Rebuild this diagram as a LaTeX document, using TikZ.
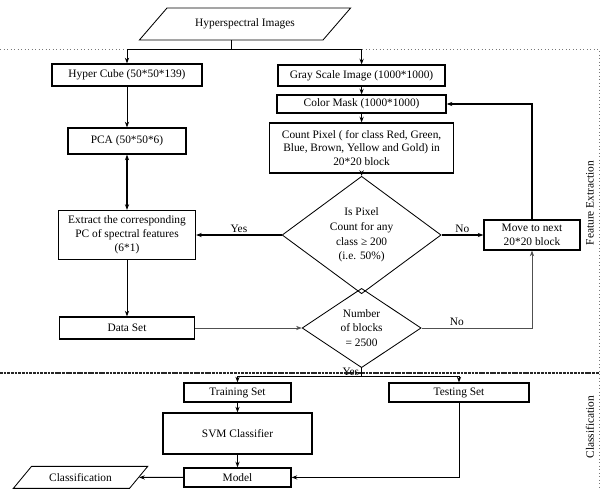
\documentclass[tikz,border=0pt]{standalone}
\usepackage{fontspec}
\setmainfont{Liberation Serif}
\usepackage{tikz}
\usetikzlibrary{shapes.geometric, arrows.meta, positioning, calc}
\definecolor{LineGray}{RGB}{80,80,80}
\definecolor{FrameGray}{RGB}{120,120,120}
\tikzset{
  box/.style={
    rectangle, draw=black, line width=0.9pt, inner sep=1pt,
    align=center, font=\fontsize{8.1}{9.9}\selectfont
  },
  dec/.style={
    diamond, draw=black, line width=0.6pt, inner sep=0pt,
    align=center, font=\fontsize{8.1}{10.4}\selectfont
  },
  io/.style={
    trapezium, trapezium stretches=true,
    trapezium left angle=36, trapezium right angle=144,
    draw=black, line width=0.6pt, inner sep=1pt,
    font=\fontsize{8.1}{9.9}\selectfont
  },
  conn/.style={draw=black, line width=0.6pt},
  arr/.style={-{Stealth[length=4pt,width=3pt]}, draw=black, line width=0.6pt},
  tarr/.style={arr, line width=1.1pt},
  garr/.style={arr, draw=LineGray, line width=0.5pt},
  lbl/.style={font=\fontsize{8.1}{9.9}\selectfont, inner sep=1.5pt}
}

\begin{document}
\begin{tikzpicture}

  \fill[white] (0,0) rectangle (15.05,12.225);
  \useasboundingbox (0,0) rectangle (15.05,12.225);

  % Frame and stage labels
  \draw[FrameGray, dotted, line width=0.5pt] (0,11.0) -- (14.975,11.0) -- (14.975,0);
  \draw[black!85, dash pattern=on 2pt off 0.6pt, line width=0.8pt] (0,2.9) -- (14.975,2.9);
  \node[lbl, rotate=90] (fe) at (14.75,7.15) {Feature Extraction};
  \node[lbl, rotate=90] (cl) at (14.75,1.55) {Classification};

  % ── Input ──
  \node[io, minimum width=5.3cm, minimum height=0.8cm] (hsi) at (6.125,11.625) {Hyperspectral Images};
  \coordinate (split) at (5.775,11.0);

  % ── Spectral branch ──
  \node[box, minimum width=3.75cm, minimum height=0.55cm]   (hcube)   at (3.175,10.35) {Hyper Cube (50*50*139)};
  \node[box, minimum width=2.95cm, minimum height=0.65cm]   (pca)     at (3.175,8.7)   {PCA (50*50*6)};
  \node[box, minimum width=3.425cm, minimum height=1.225cm] (extract) at (3.175,6.35)  {Extract the corresponding\\PC of spectral features\\(6*1)};
  \node[box, minimum width=3.375cm, minimum height=0.55cm]  (dataset) at (3.175,4.025) {Data Set};

  % ── Colour branch ──
  \node[box, minimum width=4.175cm, minimum height=0.525cm] (gray)  at (9.04,10.3375) {Gray Scale Image (1000*1000)};
  \node[box, minimum width=4.225cm, minimum height=0.45cm]  (mask)  at (9.04,9.625)   {Color Mask (1000*1000)};
  \node[box, minimum width=4.6cm, minimum height=1.25cm]    (count) at (9.04,8.525)   {Count Pixel ( for class Red, Green,\\Blue, Brown, Yellow and Gold) in\\20*20 block};
  \node[dec, minimum width=3.975cm, minimum height=2.475cm] (dia1)  at (9.04,6.35)    {Is Pixel\\Count for any\\class  ≥ 200\\(i.e. 50\%)};
  \node[box, minimum width=2.4cm, minimum height=0.75cm]    (move)  at (13.3,6.35)    {Move to next\\20*20 block};
  \node[dec, minimum width=2.975cm, minimum height=1.925cm] (dia2)  at (9.04,4.025)   {Number\\of blocks\\= 2500};

  % ── Classification ──
  \coordinate (dist) at (9.04,2.825);
  \node[box, minimum width=2.675cm, minimum height=0.475cm] (train) at (5.9375,2.4125) {Training Set};
  \node[box, minimum width=3.5cm, minimum height=0.475cm]   (test)  at (11.475,2.4125) {Testing Set};
  \node[box, minimum width=3.725cm, minimum height=1.025cm] (svm)   at (5.9375,1.3875) {SVM Classifier};
  \node[box, minimum width=2.675cm, minimum height=0.475cm] (model) at (5.9375,0.29)   {Model};
  \node[io, trapezium left angle=42, trapezium right angle=138,
        minimum width=3.375cm, minimum height=0.55cm] (classif) at (2.0125,0.29) {Classification};

  % ── Arrows ──
  \draw[conn] (split |- hsi.south) -- (split);
  \draw[arr] (split) -| (hcube);
  \draw[arr] (split) -| (gray);
  \draw[arr] (hcube) -- (pca);
  \draw[tarr, {Stealth[length=4pt,width=3pt]}-{Stealth[length=4pt,width=3pt]}] (pca) -- (extract);
  \draw[arr] (extract) -- (dataset);
  \draw[arr] (gray) -- (mask);
  \draw[arr] (mask) -- (count);
  \draw[arr] (count) -- (dia1);
  \draw[tarr] (dia1) -- node[lbl, above] {Yes} (extract);
  \draw[tarr] (dia1) -- node[lbl, above] {No} (move);
  \draw[tarr] (move) |- (mask);
  \draw[garr] (dataset) -- (dia2);
  \draw[garr] (dia2) -| node[lbl, above, pos=0.16] {No} (move);
  \draw[conn] (dia2) -- node[lbl, left] {Yes} (dist);
  \draw[arr] (dist) -| (train);
  \draw[arr] (dist) -| (test);
  \draw[arr] (train) -- (svm);
  \draw[arr] (svm) -- (model);
  \draw[arr] (test) |- (model);
  \draw[arr] (model) -- (classif);
\end{tikzpicture}
\end{document}
